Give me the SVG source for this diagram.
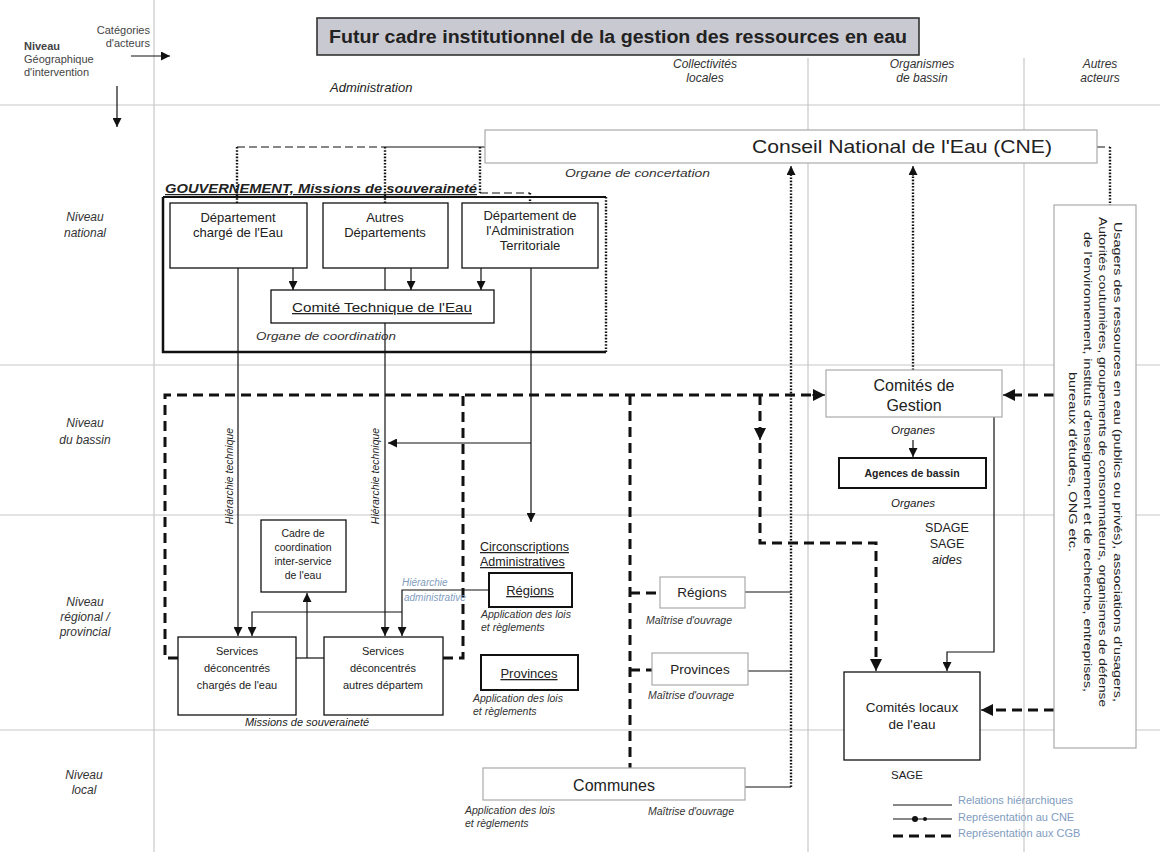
<svg xmlns="http://www.w3.org/2000/svg" width="1160" height="852" viewBox="0 0 1160 852">
<defs>
<marker id="arr" viewBox="0 0 10 10" refX="10" refY="5" markerWidth="10" markerHeight="9" markerUnits="userSpaceOnUse" orient="auto"><path d="M0,0L10,5L0,10z" fill="#111"/></marker>
<marker id="arrB" viewBox="0 0 10 10" refX="10" refY="5" markerWidth="13" markerHeight="12" markerUnits="userSpaceOnUse" orient="auto"><path d="M0,0L10,5L0,10z" fill="#111"/></marker>
</defs>
<style>
text{font-family:"Liberation Sans",Arial,sans-serif;fill:#222}
.grid{stroke:#c8c8c8;stroke-width:1.2;fill:none}
.h{stroke:#111;stroke-width:1.2;fill:none}
.thin{stroke:#111;stroke-width:1.2;fill:none;stroke-dasharray:8 4}
.cne{stroke:#111;stroke-width:2.4;stroke-dasharray:1.6 1.6;fill:none}
.cgb{stroke:#111;stroke-width:3;stroke-dasharray:10 6;fill:none}
.box{fill:#fff;stroke:#111;stroke-width:1.3}
.bbox{fill:#fff;stroke:#111;stroke-width:2}
.lbox{fill:#fff;stroke:#aaa;stroke-width:1.2}
.lvl{font-size:12px;font-style:italic;text-anchor:middle;fill:#333}
.hdr{font-size:12px;font-style:italic;text-anchor:middle;fill:#333}
.c{text-anchor:middle}
.sm{font-size:10.5px;font-style:italic;fill:#333}
.ul{text-decoration:underline}
.blue{fill:#7f9cc0}
.k{fill:#444;font-size:11px}
</style>
<rect width="1160" height="852" fill="#fff"/>

<g id="grid">
<line class="grid" x1="154" y1="0" x2="154" y2="852"/>
<line class="grid" x1="808" y1="58" x2="808" y2="852"/>
<line class="grid" x1="1024" y1="58" x2="1024" y2="852"/>
<line class="grid" x1="0" y1="105" x2="1160" y2="105"/>
<line class="grid" x1="0" y1="365" x2="1160" y2="365"/>
<line class="grid" x1="0" y1="515" x2="1160" y2="515"/>
<line class="grid" x1="0" y1="730" x2="1160" y2="730"/>
</g>

<g id="title">
<rect x="317" y="18" width="602" height="37" fill="#c9c9d2" stroke="#333" stroke-width="1.6"/>
<text x="618" y="43" class="c" font-size="17.5" font-weight="bold" textLength="578" lengthAdjust="spacingAndGlyphs">Futur cadre institutionnel de la gestion des ressources en eau</text>
</g>

<g id="corner">
<text x="150" y="34" text-anchor="end" class="k">Catégories</text>
<text x="150" y="47" text-anchor="end" class="k">d'acteurs</text>
<text x="24" y="50" class="k" font-weight="bold">Niveau</text>
<text x="24" y="63" class="k">Géographique</text>
<text x="24" y="76" class="k">d'intervention</text>
</g>

<g id="headers">
<text x="330" y="92" font-size="13" font-style="italic" fill="#333">Administration</text>
<text x="705" y="68" class="hdr">Collectivités</text>
<text x="705" y="82" class="hdr">locales</text>
<text x="922" y="68" class="hdr">Organismes</text>
<text x="922" y="82" class="hdr">de bassin</text>
<text x="1100" y="68" class="hdr">Autres</text>
<text x="1100" y="82" class="hdr">acteurs</text>
</g>

<g id="levels">
<text x="85" y="221" class="lvl">Niveau</text>
<text x="85" y="237" class="lvl">national</text>
<text x="85" y="427" class="lvl">Niveau</text>
<text x="85" y="444" class="lvl">du bassin</text>
<text x="85" y="606" class="lvl">Niveau</text>
<text x="85" y="621" class="lvl">régional /</text>
<text x="85" y="636" class="lvl">provincial</text>
<text x="84" y="779" class="lvl">Niveau</text>
<text x="84" y="794" class="lvl">local</text>
</g>

<g id="connectors">
<line class="h" x1="131" y1="56" x2="170" y2="56" marker-end="url(#arr)"/>
<line class="h" x1="117" y1="86" x2="117" y2="127" marker-end="url(#arr)"/>
<path class="thin" d="M237,147H385"/>
<path class="h" d="M385,147H487"/>
<path class="cne" d="M237,147V203M385,147V203M480,147V193M530,193V203"/>
<path class="thin" d="M480,193H530"/>
<path class="thin" d="M1097,147H1110"/>
<path class="cne" d="M1110,147V205"/>
<path class="cne" d="M791,787V168"/>
<path class="h" d="M791,176V166" marker-end="url(#arr)"/>
<path class="cne" d="M913,370V168"/>
<path class="h" d="M913,176V166" marker-end="url(#arr)"/>
<path class="h" d="M293,268V290" marker-end="url(#arr)"/>
<path class="h" d="M411,268V290" marker-end="url(#arr)"/>
<path class="h" d="M481,268V290" marker-end="url(#arr)"/>
<path class="h" d="M238,268V636" marker-end="url(#arr)"/>
<path class="h" d="M385,268V636" marker-end="url(#arr)"/>
<path class="h" d="M531,268V522" marker-end="url(#arr)"/>
<path class="h" d="M531,443H388" marker-end="url(#arr)"/>
<path class="h" d="M489,590H402V636" marker-end="url(#arr)"/>
<path class="h" d="M402,612H252V636" marker-end="url(#arr)"/>
<path class="h" d="M296,658H324"/>
<path class="h" d="M307,658V593" marker-end="url(#arr)"/>
<path class="h" d="M374,652H347" marker-end="url(#arr)"/>
<path class="h" d="M913,440V457" marker-end="url(#arr)"/>
<path class="h" d="M994,417V652H947V671" marker-end="url(#arr)"/>
<path class="h" d="M745,592H791M748,671H791M745,787H791"/>
<path class="cgb" d="M178,658H165V395H820"/>
<path class="h" d="M812,395H825" marker-end="url(#arrB)"/>
<path class="cgb" d="M443,658H463V395"/>
<path class="cgb" d="M630,395V768M630,593H660M630,670H652"/>
<path class="cgb" d="M760,395V543H876V664"/>
<path class="h" d="M876,660V671" marker-end="url(#arrB)"/>
<path class="h" d="M760,428V440" marker-end="url(#arrB)"/>
<path class="cgb" d="M1054,395H1010"/>
<path class="h" d="M1012,395H1003" marker-end="url(#arrB)"/>
<path class="cgb" d="M1054,710H990"/>
<path class="h" d="M992,710H981" marker-end="url(#arrB)"/>
</g>

<g id="cne">
<rect class="lbox" x="485" y="130" width="612" height="33"/>
<text x="902" y="153" class="c" font-size="18.5" textLength="300" lengthAdjust="spacingAndGlyphs">Conseil National de l'Eau (CNE)</text>
<text x="565" y="177" class="sm" font-size="12" textLength="145" lengthAdjust="spacingAndGlyphs">Organe de concertation</text>
</g>

<g id="gouvernement">
<path d="M163,197H606" stroke="#111" stroke-width="2" fill="none"/>
<path d="M163,197V352H606" stroke="#111" stroke-width="2.5" fill="none"/>
<path d="M606,197V352" class="cne"/>
<text x="165" y="193" font-size="12.5" font-style="italic" font-weight="bold" fill="#555" class="ul" textLength="312" lengthAdjust="spacingAndGlyphs">GOUVERNEMENT, Missions de souveraineté</text>
<text x="256" y="340" class="sm" font-size="12" textLength="140" lengthAdjust="spacingAndGlyphs">Organe de coordination</text>
</g>

<g id="dept-eau">
<rect class="box" x="170" y="203" width="137" height="65"/>
<text x="238" y="222" class="c" font-size="13">Département</text>
<text x="238" y="237" class="c" font-size="13">chargé de l'Eau</text>
</g>
<g id="autres-dept">
<rect class="box" x="323" y="203" width="125" height="65"/>
<text x="385" y="222" class="c" font-size="13">Autres</text>
<text x="385" y="237" class="c" font-size="13">Départements</text>
</g>
<g id="dept-at">
<rect class="box" x="462" y="203" width="136" height="65"/>
<text x="530" y="220" class="c" font-size="13">Département de</text>
<text x="530" y="235" class="c" font-size="13">l'Administration</text>
<text x="530" y="250" class="c" font-size="13">Territoriale</text>
</g>
<g id="comite-technique">
<rect class="box" x="271" y="290" width="223" height="33" stroke-width="1.6"/>
<text x="382" y="312" class="c ul" font-size="13" textLength="180" lengthAdjust="spacingAndGlyphs">Comité Technique de l'Eau</text>
</g>

<g id="hier-tech">
<text transform="translate(233,476) rotate(-90)" class="c" font-size="10.5" font-style="italic" fill="#666">Hiérarchie technique</text>
<text transform="translate(379,476) rotate(-90)" class="c" font-size="10.5" font-style="italic" fill="#666">Hiérarchie technique</text>
</g>

<g id="cadre">
<rect class="box" x="261" y="520" width="85" height="72"/>
<text x="303" y="537" class="c" font-size="10.5">Cadre de</text>
<text x="303" y="551" class="c" font-size="10.5">coordination</text>
<text x="303" y="565" class="c" font-size="10.5">inter-service</text>
<text x="303" y="579" class="c" font-size="10.5">de l'eau</text>
</g>

<g id="services-eau">
<rect class="box" x="178" y="637" width="118" height="78"/>
<text x="237" y="655" class="c" font-size="11">Services</text>
<text x="237" y="672" class="c" font-size="11">déconcentrés</text>
<text x="237" y="689" class="c" font-size="11">chargés de l'eau</text>
</g>
<g id="services-autres">
<rect class="box" x="324" y="637" width="119" height="78"/>
<text x="383" y="655" class="c" font-size="11">Services</text>
<text x="383" y="672" class="c" font-size="11">déconcentrés</text>
<text x="383" y="689" class="c" font-size="11">autres départem</text>
</g>
<text x="307" y="726" class="c" font-size="11" font-style="italic" fill="#333">Missions de souveraineté</text>

<g id="hier-admin">
<text x="402" y="586" font-size="10" font-style="italic" class="blue">Hiérarchie</text>
<text x="404" y="601" font-size="10" font-style="italic" class="blue">administrative</text>
</g>

<g id="circonscriptions">
<text x="480" y="551" font-size="12.5" class="ul">Circonscriptions</text>
<text x="480" y="566" font-size="12.5" class="ul">Administratives</text>
</g>
<g id="regions-admin">
<rect class="bbox" x="489" y="573" width="83" height="34"/>
<text x="530" y="595" class="c ul" font-size="13">Régions</text>
<text x="481" y="618" class="sm">Application des lois</text>
<text x="481" y="631" class="sm">et règlements</text>
</g>
<g id="provinces-admin">
<rect class="bbox" x="481" y="655" width="97" height="35"/>
<text x="529" y="678" class="c ul" font-size="13">Provinces</text>
<text x="473" y="702" class="sm">Application des lois</text>
<text x="473" y="715" class="sm">et règlements</text>
</g>

<g id="regions-coll">
<rect class="lbox" x="660" y="577" width="85" height="31"/>
<text x="702" y="597" class="c" font-size="13.5">Régions</text>
<text x="646" y="624" class="sm">Maîtrise d'ouvrage</text>
</g>
<g id="provinces-coll">
<rect class="lbox" x="652" y="653" width="96" height="32"/>
<text x="700" y="674" class="c" font-size="13.5">Provinces</text>
<text x="648" y="699" class="sm">Maîtrise d'ouvrage</text>
</g>
<g id="communes">
<rect class="lbox" x="483" y="768" width="262" height="32"/>
<text x="614" y="791" class="c" font-size="16">Communes</text>
<text x="465" y="814" class="sm">Application des lois</text>
<text x="465" y="827" class="sm">et règlements</text>
<text x="648" y="815" class="sm">Maîtrise d'ouvrage</text>
</g>

<g id="comites-gestion">
<rect class="lbox" x="826" y="370" width="176" height="47"/>
<text x="914" y="391" class="c" font-size="16">Comités de</text>
<text x="914" y="411" class="c" font-size="16">Gestion</text>
<text x="913" y="434" class="c" font-size="11.5" font-style="italic">Organes</text>
</g>
<g id="agences">
<rect x="839" y="458" width="147" height="30" fill="#fff" stroke="#111" stroke-width="2"/>
<text x="912" y="477" class="c" font-size="10.5" font-weight="bold">Agences de bassin</text>
<text x="913" y="507" class="c" font-size="11.5" font-style="italic">Organes</text>
</g>
<g id="sdage">
<text x="947" y="532" class="c" font-size="12.5">SDAGE</text>
<text x="947" y="548" class="c" font-size="12.5">SAGE</text>
<text x="947" y="564" class="c" font-size="12.5" font-style="italic">aides</text>
</g>
<g id="comites-locaux">
<rect class="box" x="844" y="672" width="136" height="88"/>
<text x="912" y="712" class="c" font-size="13.5">Comités locaux</text>
<text x="912" y="729" class="c" font-size="13.5">de l'eau</text>
<text x="907" y="779" class="c" font-size="11.5">SAGE</text>
</g>

<g id="autres-acteurs">
<rect class="lbox" x="1054" y="205" width="82" height="543"/>
<text transform="translate(1114,462) rotate(90)" class="c" font-size="11" textLength="480" lengthAdjust="spacingAndGlyphs">Usagers des ressources en eau (publics ou privés), associations d'usagers,</text>
<text transform="translate(1099,462) rotate(90)" class="c" font-size="11" textLength="490" lengthAdjust="spacingAndGlyphs">Autorités coutumières, groupements de consommateurs, organismes de défense</text>
<text transform="translate(1084,462) rotate(90)" class="c" font-size="11" textLength="460" lengthAdjust="spacingAndGlyphs">de l'environnement, instituts d'enseignement et de recherche, entreprises,</text>
<text transform="translate(1069,462) rotate(90)" class="c" font-size="11" textLength="180" lengthAdjust="spacingAndGlyphs">bureaux d'études, ONG etc.</text>
</g>

<g id="legend">
<line class="h" x1="893" y1="805" x2="952" y2="805"/>
<line class="h" x1="893" y1="819" x2="952" y2="819"/>
<circle cx="915" cy="819" r="3" fill="#111"/>
<circle cx="925" cy="819" r="2" fill="#111"/>
<line class="cgb" x1="893" y1="836" x2="952" y2="836"/>
<text x="958" y="804" font-size="11" class="blue">Relations hiérarchiques</text>
<text x="958" y="821" font-size="11" class="blue">Représentation au CNE</text>
<text x="958" y="837" font-size="11" class="blue">Représentation aux CGB</text>
</g>
</svg>
